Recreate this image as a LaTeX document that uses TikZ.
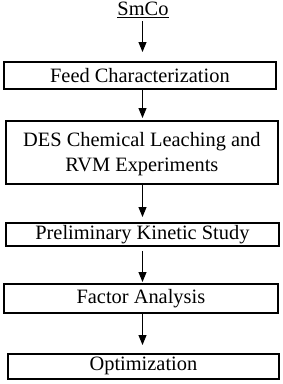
\documentclass[tikz,border=0pt]{standalone}
\usepackage{fontspec}
\setmainfont{Liberation Serif}
\usetikzlibrary{arrows.meta}
\begin{document}
\begin{tikzpicture}[x=1pt,y=-1pt,
  every node/.style={font=\fontsize{20.4}{25}\selectfont, inner sep=0pt, align=center},
  stepbox/.style={draw, line width=1.8pt, anchor=north west},
  arr/.style={-{Triangle[width=8pt,length=10pt]}, line width=0.9pt}]
\useasboundingbox (0,0) rectangle (283,384);
\node (smco) at (143,10) {\underline{SmCo}};
\node[stepbox, minimum width=272pt, minimum height=27pt] (feed) at (3,61) {Feed Characterization};
\node[stepbox, minimum width=272pt, minimum height=63pt, text depth=-2pt] (des) at (5,120) {DES Chemical Leaching and\\RVM Experiments};
\node[stepbox, minimum width=273pt, minimum height=23pt] (pre) at (5,222) {Preliminary Kinetic Study};
\node[stepbox, minimum width=274pt, minimum height=29pt] (fac) at (3,283) {Factor Analysis};
\node[stepbox, minimum width=271pt, minimum height=25pt] (opt) at (7,353) {Optimization};
\coordinate (ax) at (142.5,0);
\draw[arr] (smco.south -| ax) ++(0,3) -- ([yshift=9pt]ax |- feed.north);
\draw[arr] (ax |- feed.south) -- ([yshift=2pt]ax |- des.north);
\draw[arr] (ax |- des.south) -- ([yshift=5pt]ax |- pre.north);
\draw[arr] (ax |- pre.south) ++(0,4) -- ([yshift=1pt]ax |- fac.north);
\draw[arr] (ax |- fac.south) -- ([yshift=8pt]ax |- opt.north);
\end{tikzpicture}
\end{document}
